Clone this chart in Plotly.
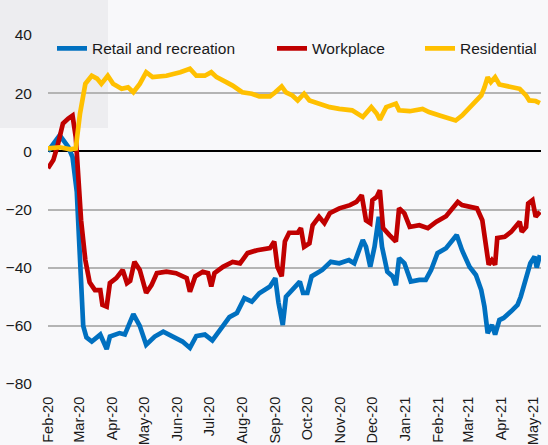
import plotly.graph_objects as go

# ---------------- data ----------------
retail_dates = [
    "2020-02-15", "2020-02-26", "2020-03-05", "2020-03-09", "2020-03-13", "2020-03-16",
    "2020-03-19", "2020-03-22", "2020-03-27", "2020-04-04", "2020-04-06", "2020-04-10",
    "2020-04-13", "2020-04-22", "2020-04-27", "2020-04-30", "2020-05-05", "2020-05-11",
    "2020-05-17", "2020-05-25", "2020-06-02", "2020-06-11", "2020-06-20", "2020-06-27",
    "2020-07-03", "2020-07-11", "2020-07-18", "2020-07-28", "2020-08-03", "2020-08-10",
    "2020-08-17", "2020-08-24", "2020-08-31", "2020-09-10", "2020-09-15", "2020-09-18",
    "2020-09-22", "2020-09-25", "2020-10-01", "2020-10-08", "2020-10-11", "2020-10-15",
    "2020-10-19", "2020-10-25", "2020-10-29", "2020-11-06", "2020-11-14", "2020-11-23",
    "2020-11-28", "2020-12-06", "2020-12-09", "2020-12-13", "2020-12-17", "2020-12-21",
    "2020-12-24", "2020-12-29", "2021-01-03", "2021-01-06", "2021-01-09", "2021-01-14",
    "2021-01-20", "2021-01-28", "2021-02-03", "2021-02-08", "2021-02-14", "2021-02-22",
    "2021-02-28", "2021-03-04", "2021-03-09", "2021-03-16", "2021-03-22", "2021-03-27",
    "2021-03-30", "2021-04-02", "2021-04-06", "2021-04-09", "2021-04-13", "2021-04-17",
    "2021-04-24", "2021-04-30", "2021-05-03", "2021-05-08", "2021-05-12", "2021-05-16",
    "2021-05-18", "2021-05-21",
]
retail_values = [
    0, 5.5, 1.5, -2, -14, -37,
    -60, -64, -65.4, -63, -65, -68,
    -63.7, -62.5, -63, -60, -56, -60,
    -66.5, -63.7, -62, -63.7, -65.4, -67.6,
    -63.5, -63, -65, -60, -57, -55.6,
    -50.5, -51.7, -48.8, -46.5, -43.6, -52,
    -59.7, -50, -47.7, -44.8, -48.7, -48.7,
    -43, -41.9, -40.8, -38, -38.5, -37.4,
    -38.5, -30.5, -32.8, -39.7, -32.8, -22.5,
    -32.8, -41.4, -43, -46, -36.7, -38.5,
    -44.8, -44.2, -44.2, -40.8, -35, -33.3,
    -30.5, -28.8, -34, -39.7, -42.5, -47.7,
    -53.4, -62.5, -59.7, -63, -58, -57.3,
    -55, -52.8, -50, -44.2, -38.5, -36.2,
    -40, -35.7,
]

workplace_dates = [
    "2020-02-15", "2020-02-20", "2020-02-24", "2020-02-29", "2020-03-05", "2020-03-09",
    "2020-03-12", "2020-03-14", "2020-03-17", "2020-03-21", "2020-03-25", "2020-03-30",
    "2020-04-04", "2020-04-06", "2020-04-10", "2020-04-13", "2020-04-19", "2020-04-25",
    "2020-04-29", "2020-05-02", "2020-05-06", "2020-05-11", "2020-05-17", "2020-05-22",
    "2020-05-27", "2020-06-05", "2020-06-14", "2020-06-24", "2020-06-27", "2020-07-02",
    "2020-07-09", "2020-07-14", "2020-07-17", "2020-07-20", "2020-07-28", "2020-08-06",
    "2020-08-13", "2020-08-20", "2020-08-29", "2020-09-10", "2020-09-14", "2020-09-17",
    "2020-09-21", "2020-09-24", "2020-09-28", "2020-10-06", "2020-10-09", "2020-10-12",
    "2020-10-17", "2020-10-20", "2020-10-26", "2020-10-31", "2020-11-05", "2020-11-14",
    "2020-11-24", "2020-11-30", "2020-12-05", "2020-12-09", "2020-12-13", "2020-12-15",
    "2020-12-19", "2020-12-22", "2020-12-25", "2020-12-31", "2021-01-06", "2021-01-09",
    "2021-01-14", "2021-01-19", "2021-01-28", "2021-02-05", "2021-02-13", "2021-02-22",
    "2021-02-28", "2021-03-05", "2021-03-09", "2021-03-17", "2021-03-23", "2021-03-28",
    "2021-03-31", "2021-04-03", "2021-04-06", "2021-04-09", "2021-04-11", "2021-04-18",
    "2021-04-24", "2021-05-02", "2021-05-04", "2021-05-08", "2021-05-10", "2021-05-14",
    "2021-05-17", "2021-05-21",
]
workplace_values = [
    -5.8, -3, 2, 9.6, 11.3, 12.3,
    5, -8.8, -23.7, -37.4, -45, -47.7,
    -47.7, -52.8, -53.4, -45.3, -43.6, -40.8,
    -45.3, -44.5, -38, -40.8, -48.7, -46,
    -41.9, -41.4, -41.9, -43.6, -48.3, -43,
    -41.4, -41.9, -46.5, -41.9, -39.7, -38,
    -38.5, -35, -34, -33.3, -31, -39.7,
    -43, -31, -28, -28, -26.4, -32.8,
    -31.6, -25.4, -22.5, -24.7, -21.3, -19.6,
    -18.5, -17.4, -15.1, -23.7, -24.7, -16.8,
    -15.7, -13.4, -26.4, -28.8, -31, -19.6,
    -21.3, -26, -25.4, -26.4, -24.2, -22.3,
    -19.6, -17.4, -18.5, -19.1, -19.6, -23.7,
    -30.5, -39, -37.4, -39, -29.8, -29.4,
    -27.7, -24.2, -27.7, -26, -17.9, -16.8,
    -22.5, -20.8,
]

residential_dates = [
    "2020-02-15", "2020-02-26", "2020-03-07", "2020-03-12", "2020-03-16", "2020-03-21",
    "2020-03-27", "2020-04-01", "2020-04-05", "2020-04-11", "2020-04-16", "2020-04-24",
    "2020-04-30", "2020-05-05", "2020-05-11", "2020-05-17", "2020-05-23", "2020-06-05",
    "2020-06-18", "2020-06-27", "2020-07-03", "2020-07-11", "2020-07-17", "2020-07-22",
    "2020-07-31", "2020-08-06", "2020-08-15", "2020-08-24", "2020-08-31", "2020-09-10",
    "2020-09-15", "2020-09-21", "2020-09-25", "2020-10-01", "2020-10-06", "2020-10-12",
    "2020-10-17", "2020-10-26", "2020-11-05", "2020-11-14", "2020-11-26", "2020-12-06",
    "2020-12-14", "2020-12-19", "2020-12-22", "2020-12-28", "2021-01-06", "2021-01-09",
    "2021-01-19", "2021-01-31", "2021-02-06", "2021-02-16", "2021-02-25", "2021-03-03",
    "2021-03-09", "2021-03-19", "2021-03-27", "2021-03-30", "2021-04-02", "2021-04-05",
    "2021-04-09", "2021-04-13", "2021-04-22", "2021-05-02", "2021-05-08", "2021-05-11",
    "2021-05-17", "2021-05-21",
]
residential_values = [
    1, 1.4, 0.7, 1, 13, 23.2,
    26, 25, 23.2, 26, 23.2, 21.5,
    22, 20.3, 23.2, 27.2, 25.5, 26,
    27.2, 28.4, 26, 26, 27.2, 25.5,
    23.8, 22.6, 20.3, 19.8, 18.9, 18.9,
    20.3, 22.3, 20.3, 19.2, 17.5, 19.8,
    17.5, 16.4, 15.2, 14.6, 14.1, 11.8,
    15.2, 13, 10.9, 15.2, 16.4, 14.1,
    13.8, 14.6, 13.5, 12.3, 11.2, 10.6,
    12.3, 16.4, 19.2, 22, 25.5, 23.8,
    25.5, 23, 22.3, 21.5, 19.2, 17.5,
    17.3, 16.6,
]

series_names = ["Retail and recreation", "Workplace", "Residential"]
series_colors = ["#0070c0", "#c00000", "#ffc000"]

month_ticks = [
    "2020-02-15", "2020-03-15", "2020-04-15", "2020-05-15", "2020-06-15", "2020-07-15",
    "2020-08-15", "2020-09-15", "2020-10-15", "2020-11-15", "2020-12-15", "2021-01-15",
    "2021-02-15", "2021-03-15", "2021-04-15", "2021-05-15",
]
month_labels = [
    "Feb-20", "Mar-20", "Apr-20", "May-20", "Jun-20", "Jul-20", "Aug-20", "Sep-20",
    "Oct-20", "Nov-20", "Dec-20", "Jan-21", "Feb-21", "Mar-21", "Apr-21", "May-21",
]
y_ticks = [40, 20, 0, -20, -40, -60, -80]

# ---------------- figure ----------------
FONT = "Liberation Sans, Arial, sans-serif"
W, H = 548, 445
ML, MR, MT, MB = 48, 7, 35, 61
PW, PH = W - ML - MR, H - MT - MB

fig = go.Figure()
all_x = [retail_dates, workplace_dates, residential_dates]
all_y = [retail_values, workplace_values, residential_values]
legend_ids = ["legend", "legend2", "legend3"]
for name, color, xs, ys, lg in zip(series_names, series_colors, all_x, all_y, legend_ids):
    fig.add_trace(go.Scatter(
        x=xs, y=ys, name=name, mode="lines", legend=lg,
        line=dict(color=color, width=4.7, shape="linear"),
    ))

# light watermark block in the top-left corner of the original background
fig.add_shape(type="rect", xref="paper", yref="paper", layer="below",
              x0=-ML / PW, x1=60 / PW, y0=1 - (128 - MT) / PH, y1=1 + MT / PH,
              fillcolor="#ededf0", line=dict(width=0))

legend_left_px = [52, 272, 420]
legend_common = dict(
    orientation="h", xref="paper", yref="paper", xanchor="left", yanchor="top",
    y=1.0005 + 3 / PH, bgcolor="rgba(0,0,0,0)", borderwidth=0,
    font=dict(size=15.5, family=FONT, color="#1a1a1a"),
)

fig.update_layout(
    width=W, height=H,
    margin=dict(l=ML, r=MR, t=MT, b=MB, autoexpand=False),
    paper_bgcolor="#f8f8fa",
    plot_bgcolor="rgba(0,0,0,0)",
    font=dict(family=FONT, size=15, color="#1a1a1a"),
    showlegend=True,
    legend=dict(x=(legend_left_px[0] - ML) / PW, **legend_common),
    legend2=dict(x=(legend_left_px[1] - ML) / PW, **legend_common),
    legend3=dict(x=(legend_left_px[2] - ML) / PW, **legend_common),
    xaxis=dict(
        type="date", range=["2020-02-15", "2021-05-22"], automargin=False,
        tickmode="array", tickvals=month_ticks, ticktext=month_labels,
        tickangle=-90, showgrid=False, zeroline=False, showline=False,
        ticks="outside", ticklen=6, tickcolor="rgba(0,0,0,0)",
        tickfont=dict(size=14.5, family=FONT, color="#1a1a1a"),
    ),
    yaxis=dict(
        range=[-80, 40], tickmode="array", tickvals=y_ticks, automargin=False,
        showgrid=True, gridcolor="#b4b4b4", gridwidth=1.5,
        zeroline=True, zerolinecolor="#000000", zerolinewidth=1.5,
        showline=False, ticks="outside", ticklen=12, tickcolor="rgba(0,0,0,0)",
        tickfont=dict(size=15.5, family=FONT, color="#1a1a1a"),
    ),
)

fig.write_html("out.html", config={"displayModeBar": False},
               post_script="document.body.style.margin='0px';")
